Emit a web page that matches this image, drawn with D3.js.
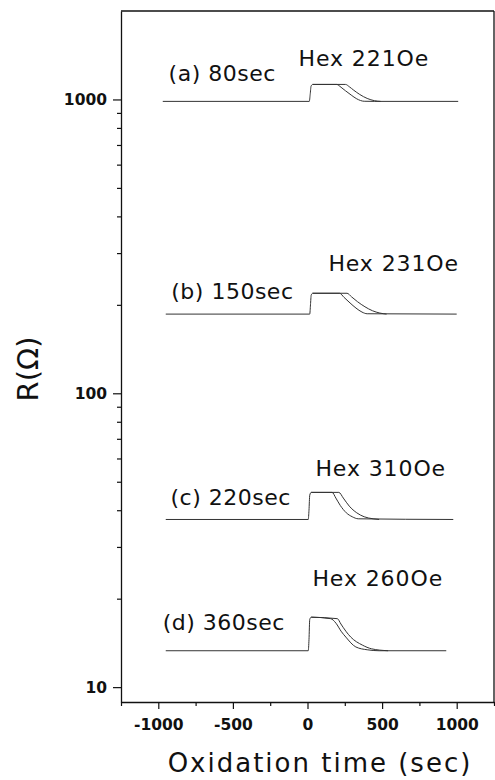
<!DOCTYPE html>
<html>
<head>
<meta charset="utf-8">
<script src="https://cdn.jsdelivr.net/npm/d3@7"></script>
<style>
  body { margin: 0; background: #fff; }
  svg { display: block; font-family: "DejaVu Sans", sans-serif; }
</style>
</head>
<body>
<svg id="chart" width="495" height="780"></svg>
<script>
// panel captions and field labels
var panelNames = ["(a) 80sec", "(b) 150sec", "(c) 220sec", "(d) 360sec"];
var fieldNames = ["Hex 221Oe", "Hex 231Oe", "Hex 310Oe", "Hex 260Oe"];

var xTicks = [-1000, -500, 0, 500, 1000];
var xMinor = [-1250, -750, -250, 250, 750, 1250];
var yTicks = [10, 100, 1000];
var yMinor = [20, 30, 40, 50, 60, 70, 80, 90, 200, 300, 400, 500, 600, 700, 800, 900];

// [time (sec), R (ohm)]
var aInner = [[-970, 985], [12, 985], [18, 1040], [24, 1110], [35, 1125], [195, 1125], [225, 1100], [255, 1070], [293, 1035], [330, 1005], [380, 986], [450, 985], [1010, 985]];
var aOuter = [[35, 1125], [255, 1125], [280, 1105], [310, 1075], [350, 1040], [400, 1008], [450, 990], [490, 985]];
var bInner = [[-950, 186], [15, 186], [20, 200], [25, 216], [35, 219], [215, 219], [245, 212], [285, 203], [325, 195], [365, 189], [400, 186.5], [1000, 186]];
var bOuter = [[35, 219], [265, 219], [295, 213], [335, 205], [385, 197], [435, 191], [485, 187.5], [530, 186]];
var cInner = [[-950, 37.2], [5, 37.2], [10, 40], [15, 45], [25, 46], [165, 46], [190, 44], [220, 41.5], [260, 39.2], [300, 38], [340, 37.4], [977, 37.2]];
var cOuter = [[25, 46], [210, 46], [240, 44], [280, 41.3], [330, 39.2], [380, 38], [440, 37.4], [480, 37.2]];
var dInner = [[-950, 13.3], [5, 13.3], [10, 14.5], [15, 17.0], [25, 17.3], [155, 17.1], [191, 16.5], [225, 15.5], [257, 14.8], [324, 13.7], [400, 13.4], [480, 13.3], [930, 13.3]];
var dOuter = [[25, 17.3], [200, 17.1], [224, 16.4], [257, 15.5], [290, 14.8], [368, 13.9], [430, 13.5], [540, 13.3]];

// label anchors in data units [time, R]
var panelAt = [[-931, 1160], [-913, 209], [-918, 41.6], [-971, 15.6]];
var fieldAt = [[-60, 1295], [140, 260], [53, 52.2], [33, 22.05]];

var svg = d3.select("#chart");
var margin = { top: 11, right: 1, bottom: 78, left: 121 };
var width = +svg.attr("width") - margin.left - margin.right,
    height = +svg.attr("height") - margin.top - margin.bottom;

var g = svg.append("g")
    .attr("transform", "translate(" + margin.left + "," + margin.top + ")");

var x = d3.scaleLinear().domain([-1250, 1250]).range([0, width]);
var y = d3.scaleLog().domain([8.9, 2000]).range([height, 0]);

// frame (top and right)
g.append("line").attr("x1", 0).attr("x2", width).attr("y1", 0).attr("y2", 0)
    .attr("stroke", "#111").attr("stroke-width", 1.3);
g.append("line").attr("x1", width).attr("x2", width).attr("y1", 0).attr("y2", height)
    .attr("stroke", "#111").attr("stroke-width", 1.3);

var plain = function(d) { return String(d); }; // hyphen minus, no commas

// x axis
var xAxis = g.append("g")
    .attr("transform", "translate(0," + height + ")")
    .call(d3.axisBottom(x).tickValues(xTicks).tickSize(7).tickSizeOuter(0).tickPadding(10)
        .tickFormat(plain));
g.append("g")
    .attr("transform", "translate(0," + height + ")")
    .call(d3.axisBottom(x).tickValues(xMinor).tickSize(4).tickFormat(""))
    .select(".domain").remove();

// y axis
var yAxis = g.append("g")
    .call(d3.axisLeft(y).tickValues(yTicks).tickSize(8).tickSizeOuter(0).tickPadding(6)
        .tickFormat(plain));
g.append("g")
    .call(d3.axisLeft(y).tickValues(yMinor).tickSize(4).tickFormat(""))
    .select(".domain").remove();

g.selectAll(".tick text")
    .attr("font-family", "DejaVu Sans")
    .attr("font-size", 15.5)
    .attr("font-weight", "bold")
    .attr("fill", "#111");
g.selectAll(".domain").attr("stroke", "#111").attr("stroke-width", 1.3);
g.selectAll(".tick line").attr("stroke", "#111").attr("stroke-width", 1.2);

// curves
var line = d3.line()
    .x(function(d) { return x(d[0]); })
    .y(function(d) { return y(d[1]); })
    .curve(d3.curveMonotoneX);

var curves = [aInner, aOuter, bInner, bOuter, cInner, cOuter, dInner, dOuter];
g.append("g")
    .selectAll("path")
    .data(curves)
    .enter()
    .append("path")
    .attr("d", line)
    .attr("fill", "none")
    .attr("stroke", "#333")
    .attr("stroke-width", 1);

// labels
g.append("g")
    .selectAll("text")
    .data(panelNames)
    .enter()
    .append("text")
    .attr("x", function(d, i) { return x(panelAt[i][0]); })
    .attr("y", function(d, i) { return y(panelAt[i][1]); })
    .style("font-size", "22px")
    .style("letter-spacing", "0.5px")
    .attr("fill", "#111")
    .text(function(d) { return d; });

g.append("g")
    .selectAll("text")
    .data(fieldNames)
    .enter()
    .append("text")
    .attr("x", function(d, i) { return x(fieldAt[i][0]); })
    .attr("y", function(d, i) { return y(fieldAt[i][1]); })
    .style("font-size", "22px")
    .style("letter-spacing", "0.9px")
    .attr("fill", "#111")
    .text(function(d) { return d; });

// axis titles
svg.append("text")
    .attr("x", 320)
    .attr("y", 772)
    .attr("text-anchor", "middle")
    .style("font-size", "26px")
    .style("letter-spacing", "2px")
    .attr("fill", "#111")
    .text("Oxidation time (sec)");

svg.append("text")
    .attr("transform", "translate(38,369) rotate(-90)")
    .attr("text-anchor", "middle")
    .style("font-size", "29px")
    .attr("fill", "#111")
    .text("R(\u03A9)");
</script>
</body>
</html>
